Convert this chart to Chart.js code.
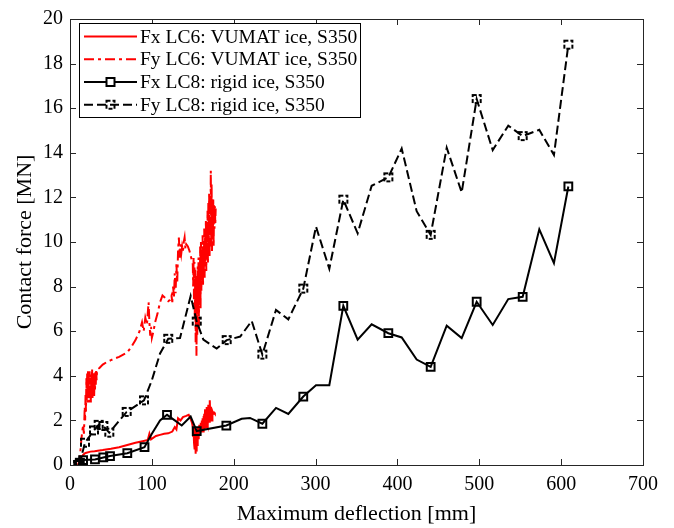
<!DOCTYPE html>
<html>
<head>
<meta charset="utf-8">
<script src="https://cdn.jsdelivr.net/npm/chart.js@4.4.1/dist/chart.umd.min.js"></script>
<style>
html,body{margin:0;padding:0;background:#fff;}
canvas{display:block;}
</style>
</head>
<body>
<canvas id="c" width="674" height="528"></canvas>
<script>
// ---- data ----
const seriesLabels = ["Fx LC6: VUMAT ice, S350","Fy LC6: VUMAT ice, S350","Fx LC8: rigid ice, S350","Fy LC8: rigid ice, S350"];
const xTicks = [0,100,200,300,400,500,600,700];
const yTicks = [0,2,4,6,8,10,12,14,16,18,20];

const fxLC6X = [10,12,14,16,18,20,25,30,40,50,60,70,80,90,95,97,99,105,110,115,120,125,128,130,132,135,138,142,145,147,149,
  150,150.5,151,151.5,152,152.5,153,153.5,154,154.5,155,155.5,156,156.5,157,157.5,158,158.5,159,159.5,160,160.5,161,161.5,162,162.5,163,163.5,164,164.5,165,165.5,166,166.5,167,167.5,168,168.5,169,169.5,170,170.5,171,171.5,172,172.5,173,173.5,174,175,176,177,178];
const fxLC6Y = [0,0.2,0.35,0.45,0.52,0.55,0.6,0.62,0.67,0.73,0.8,0.9,1.0,1.08,1.12,1.4,1.15,1.3,1.35,1.4,1.42,1.5,1.7,1.6,2.1,2.0,2.15,2.2,2.25,2.1,1.9,
  1.7,1.3,1.6,1.0,1.7,0.7,1.6,0.5,1.5,0.6,1.6,0.9,1.7,1.2,1.6,1.3,1.8,1.4,1.7,1.5,1.9,1.5,2.0,1.6,2.1,1.5,2.2,1.7,2.3,1.6,2.5,1.8,2.3,1.7,2.6,1.9,2.4,1.8,2.7,2.0,2.5,1.9,2.9,2.0,2.6,2.1,2.5,2.0,2.4,2.3,2.35,2.3,2.3];

const fyLC6X = [10,12,14,16,17,
  18,18.5,19,19.5,20,20.5,21,21.5,22,22.5,23,23.5,24,24.5,25,25.5,26,26.5,27,27.5,28,28.5,29,29.5,30,30.5,31,31.5,32,32.5,33,34,
  36,40,45,50,55,60,65,70,75,80,85,88,90,92,94,96,97,98,99,100,102,104,107,110,113,116,120,122,124,125,126,127,128,129,130,131,132,133,134,135,136,137,138,139,140,141,142,144,146,148,
  150,150.5,151,151.5,152,152.5,153,153.5,154,154.5,155,155.5,156,156.5,157,157.5,158,158.5,159,159.5,160,160.5,161,161.5,162,162.5,163,163.5,164,164.5,165,165.5,166,166.5,167,167.5,168,168.5,169,169.5,170,170.5,171,171.5,172,172.5,173,173.5,174,174.5,175,175.5,176,176.5,177,177.5,178];
const fyLC6Y = [0,0.3,1.2,1.8,1.4,
  2.6,2.0,3.2,2.4,3.9,2.9,4.1,2.8,4.2,3.0,4.0,2.8,4.2,3.1,3.9,2.8,4.1,3.2,4.3,3.0,4.0,3.4,4.2,3.1,3.9,3.3,4.2,3.6,4.3,3.8,4.2,4.3,
  4.35,4.5,4.62,4.7,4.78,4.85,4.95,5.05,5.3,5.6,6.0,6.4,6.0,6.6,6.3,7.3,6.4,5.8,6.2,5.7,6.0,6.4,6.8,7.3,7.6,7.5,7.35,7.4,7.6,7.3,8.0,7.5,8.6,7.7,9.0,8.2,9.6,10.2,9.3,9.9,9.5,9.8,9.6,10.0,10.2,9.7,9.9,9.8,9.6,9.3,
  9.0,8.0,9.3,7.2,9.1,6.5,8.8,5.5,8.5,4.9,8.2,5.8,8.9,6.8,9.3,6.2,9.0,7.5,9.8,7.0,10.0,7.8,9.6,8.2,10.3,8.0,9.9,8.6,10.6,8.4,10.2,8.9,11.0,8.7,10.5,9.2,11.4,9.0,11.8,9.5,12.2,9.3,11.5,9.8,13.2,10.0,12.6,9.6,12.0,10.2,11.9,9.8,11.7,10.6,11.6,10.8,11.5];

const fxLC8X = [10,12,16,30.5,40.7,48.9,70,91,100,110,118.5,128,136.5,147.4,154.8,191,209.7,219.9,235,251.7,266.7,285,300.5,316.8,333.9,351.4,368.5,388.9,405.2,423.5,440.6,460.2,478.5,496.8,516.4,535.4,553,573.3,591.2,608.8];
const fxLC8Y = [0,0.05,0.22,0.25,0.34,0.4,0.53,0.8,1.4,2.0,2.25,2.0,1.77,2.17,1.52,1.77,2.07,2.11,1.85,2.56,2.29,3.07,3.58,3.58,7.14,5.62,6.31,5.91,5.72,4.73,4.4,6.25,5.69,7.32,6.28,7.44,7.54,10.57,9.05,12.49];
const fxLC8Mark = [1,1,1,1,1,1,1,1,0,0,1,0,0,0,1,1,0,0,1,0,0,1,0,0,1,0,0,1,0,0,1,0,0,1,0,0,1,0,0,1];

const fyLC8X = [10,12,18.3,29.3,35,40.7,48,69.2,90.4,100,110,120,134.4,147.4,154.8,162.9,179.2,191.4,208,222,235,251.6,266.7,285,300.5,316.8,333.9,351.4,368.5,388.9,405.2,423.5,440.6,460.2,478.5,496.8,516.4,535.4,553,573.3,591.2,608.8];
const fyLC8Y = [0,0.1,1.0,1.55,1.8,1.75,1.45,2.38,2.9,3.8,5.0,5.66,5.69,7.58,6.43,5.62,5.22,5.6,5.76,6.46,4.95,6.95,6.53,7.91,10.69,8.8,11.9,10.39,12.52,12.9,14.19,11.38,10.32,14.23,12.22,16.41,14.12,15.22,14.75,15.03,13.9,18.85];
const fyLC8Mark = [1,1,1,1,1,1,1,1,1,0,0,1,0,0,1,0,0,1,0,0,1,0,0,1,0,0,1,0,0,1,0,0,1,0,0,1,0,0,1,0,0,1];

// ---- helpers ----
const pts = (xs, ys) => xs.map((x, i) => ({x, y: ys[i]}));
const FONT = "'Liberation Serif', 'Times New Roman', serif";

function dashedSquare(){
  const c = document.createElement('canvas');
  c.width = 12; c.height = 12;
  const g = c.getContext('2d');
  g.strokeStyle = '#000'; g.lineWidth = 2;
  g.setLineDash([4,2]);
  g.strokeRect(2,2,8,8);
  return c;
}
const fySq = dashedSquare();

const styles = [
  {color:'#ff0000', dash:[], marker:null},
  {color:'#ff0000', dash:[10,4,3,4], marker:null},
  {color:'#000000', dash:[], marker:'rect'},
  {color:'#000000', dash:[9,4], marker:fySq}
];

const datasets = [
  {label: seriesLabels[0], data: pts(fxLC6X, fxLC6Y), borderColor:'#ff0000', borderWidth:2, pointRadius:0, showLine:true, order:2},
  {label: seriesLabels[1], data: pts(fyLC6X, fyLC6Y), borderColor:'#ff0000', borderWidth:2, borderDash:[10,4,3,4], pointRadius:0, showLine:true, order:3},
  {label: seriesLabels[2], data: pts(fxLC8X, fxLC8Y), borderColor:'#000000', borderWidth:2, showLine:true, order:0,
   pointStyle:'rect', pointBorderColor:'#000', pointBackgroundColor:'rgba(0,0,0,0)', pointBorderWidth:2,
   pointRadius: ctx => fxLC8Mark[ctx.dataIndex] ? 5.5 : 0},
  {label: seriesLabels[3], data: pts(fyLC8X, fyLC8Y), borderColor:'#000000', borderWidth:2, borderDash:[9,4], showLine:true, order:1,
   pointStyle: fySq, pointBorderColor:'#000', pointBackgroundColor:'rgba(0,0,0,0)',
   pointRadius: ctx => fyLC8Mark[ctx.dataIndex] ? 6 : 0}
];

const framePlugin = {
  id:'frame',
  afterDraw(chart){
    const {ctx, chartArea:a, scales} = chart;
    ctx.save();
    ctx.strokeStyle = '#262626';
    ctx.lineWidth = 1;
    ctx.setLineDash([]);
    ctx.strokeRect(a.left+0.5, a.top+0.5, a.right-a.left, a.bottom-a.top);
    const tl = 6;
    ctx.beginPath();
    xTicks.forEach(v => {
      const p = Math.round(scales.x.getPixelForValue(v)) + 0.5;
      ctx.moveTo(p, a.bottom); ctx.lineTo(p, a.bottom - tl);
      ctx.moveTo(p, a.top); ctx.lineTo(p, a.top + tl);
    });
    yTicks.forEach(v => {
      const p = Math.round(scales.y.getPixelForValue(v)) + 0.5;
      ctx.moveTo(a.left, p); ctx.lineTo(a.left + tl, p);
      ctx.moveTo(a.right, p); ctx.lineTo(a.right - tl, p);
    });
    ctx.stroke();

    // legend
    const lx = 79.5, ly = 23.5, lw = 281, lh = 94;
    ctx.fillStyle = '#fff';
    ctx.fillRect(lx, ly, lw, lh);
    ctx.strokeStyle = '#000';
    ctx.strokeRect(lx, ly, lw, lh);
    ctx.font = '19.5px ' + FONT;
    ctx.textBaseline = 'middle';
    ctx.textAlign = 'left';
    const rows = [36.5, 59.3, 82, 104.7];
    styles.forEach((s, i) => {
      const y = rows[i];
      ctx.strokeStyle = s.color;
      ctx.lineWidth = 2;
      ctx.setLineDash(s.dash);
      ctx.beginPath(); ctx.moveTo(84, y); ctx.lineTo(137, y); ctx.stroke();
      ctx.setLineDash([]);
      if (s.marker === 'rect') {
        ctx.fillStyle = '#fff';
        ctx.fillRect(106.5, y-4, 8, 8);
        ctx.strokeRect(106.5, y-4, 8, 8);
      } else if (s.marker) {
        ctx.drawImage(s.marker, 104.5, y-6);
      }
      ctx.fillStyle = '#000';
      ctx.fillText(seriesLabels[i], 140, y + 1);
    });
    ctx.restore();
  }
};

new Chart(document.getElementById('c'), {
  type:'scatter',
  data:{datasets},
  options:{
    responsive:false,
    animation:false,
    devicePixelRatio:1,
    layout:{padding:{top:14,right:31,bottom:0,left:0}},
    plugins:{legend:{display:false}, tooltip:{enabled:false}},
    elements:{line:{tension:0}},
    scales:{
      x:{
        type:'linear', min:0, max:700,
        afterBuildTicks: s => { s.ticks = xTicks.map(v => ({value:v})); },
        afterFit: s => { s.height = 63; },
        grid:{display:false, drawTicks:false},
        border:{display:false},
        ticks:{autoSkip:false, maxRotation:0, padding:8, color:'#000', font:{family:FONT, size:20}},
        title:{display:true, text:'Maximum deflection [mm]', color:'#000', font:{family:FONT, size:22}, padding:{top:0,bottom:1}}
      },
      y:{
        type:'linear', min:0, max:20,
        afterBuildTicks: s => { s.ticks = yTicks.map(v => ({value:v})); },
        afterFit: s => { s.width = 70; },
        grid:{display:false, drawTicks:false},
        border:{display:false},
        ticks:{autoSkip:false, padding:7, color:'#000', font:{family:FONT, size:20}},
        title:{display:true, text:'Contact force [MN]', color:'#000', font:{family:FONT, size:22}, padding:{top:12,bottom:0}}
      }
    }
  },
  plugins:[framePlugin]
});
</script>
</body>
</html>
